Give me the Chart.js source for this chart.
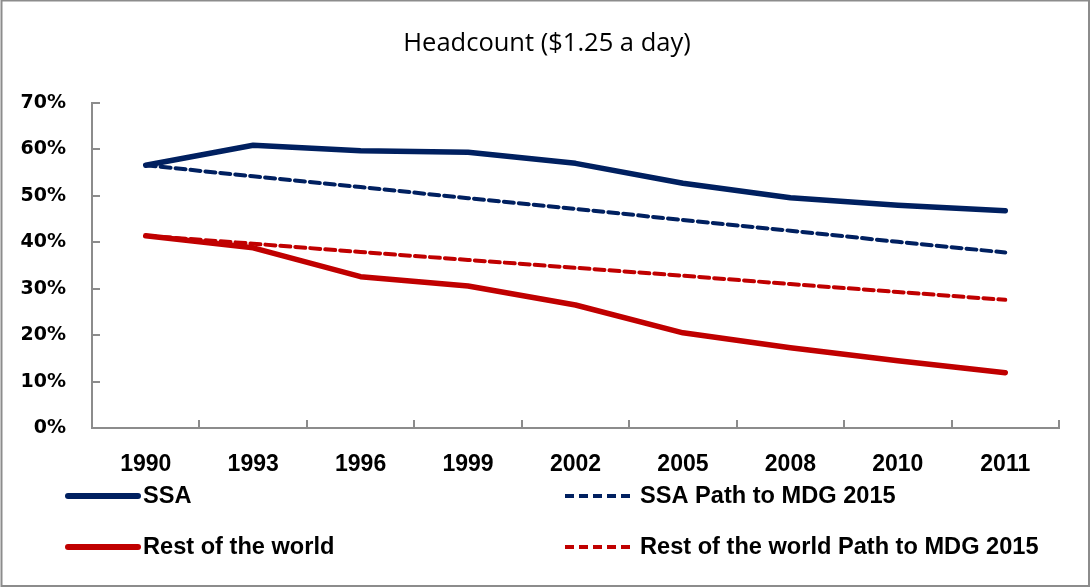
<!DOCTYPE html>
<html>
<head>
<meta charset="utf-8">
<style>
  html, body { margin: 0; padding: 0; background: #ffffff; }
  #wrap { position: relative; width: 1090px; height: 587px; }
</style>
<script src="https://cdn.jsdelivr.net/npm/chart.js@4.4.1/dist/chart.umd.min.js"></script>
</head>
<body>
<div id="wrap"><canvas id="chart" width="1090" height="587"></canvas></div>
<script>
// Poverty headcount ratio at $1.25 a day, in percent
const categories = ['1990', '1993', '1996', '1999', '2002', '2005', '2008', '2010', '2011'];
const ssa        = [56.6, 60.9, 59.7, 59.4, 57.0, 52.7, 49.6, 48.0, 46.8];
const ssaPath    = [56.6, 54.2, 51.9, 49.5, 47.2, 44.8, 42.5, 40.1, 37.8];
const rest       = [41.4, 38.8, 32.6, 30.6, 26.5, 20.5, 17.3, 14.5, 11.9];
const restPath   = [41.4, 39.7, 37.9, 36.2, 34.5, 32.8, 31.0, 29.3, 27.6];
const yTickValues = [0, 10, 20, 30, 40, 50, 60, 70];

const NAVY = '#002060';
const RED = '#C00000';
const AXIS = '#8c8c8c';

// White page with a thin grey frame
const frame = {
  id: 'frame',
  beforeDraw(chart) {
    const ctx = chart.ctx;
    ctx.save();
    ctx.fillStyle = '#ffffff';
    ctx.fillRect(0, 0, chart.width, chart.height);
    ctx.strokeStyle = AXIS;
    ctx.lineWidth = 2;
    ctx.strokeRect(1.5, 0.5, chart.width - 2.5, chart.height - 1.5);
    ctx.restore();
  }
};

// Tick marks pointing into the plot area
const inwardTicks = {
  id: 'inwardTicks',
  beforeDatasetsDraw(chart) {
    const { ctx, scales: { x, y }, chartArea: a } = chart;
    ctx.save();
    ctx.strokeStyle = AXIS;
    ctx.lineWidth = 2;
    ctx.beginPath();
    y.ticks.forEach(t => {
      const py = Math.round(y.getPixelForValue(t.value));
      ctx.moveTo(a.left, py);
      ctx.lineTo(a.left + 8, py);
    });
    for (let i = 0; i < x.ticks.length; i++) {
      const px = Math.round(x.getPixelForValue(i + 0.5));
      ctx.moveTo(px, a.bottom);
      ctx.lineTo(px, a.bottom - 8);
    }
    ctx.stroke();
    ctx.restore();
  }
};

// Two-column legend under the axis
const gridLegend = {
  id: 'gridLegend',
  afterDraw(chart) {
    const ctx = chart.ctx;
    const slots = [
      { ds: 0, x: 68, y: 496 },
      { ds: 1, x: 565, y: 496 },
      { ds: 2, x: 68, y: 547 },
      { ds: 3, x: 565, y: 547 }
    ];
    ctx.save();
    slots.forEach(s => {
      const d = chart.data.datasets[s.ds];
      ctx.strokeStyle = d.borderColor;
      ctx.lineWidth = d.borderDash ? 4 : 6;
      ctx.lineCap = d.borderDash ? 'butt' : 'round';
      ctx.setLineDash(d.borderDash ? [9, 5] : []);
      ctx.beginPath();
      ctx.moveTo(s.x, s.y);
      ctx.lineTo(s.x + 70, s.y);
      ctx.stroke();
      ctx.setLineDash([]);
      ctx.fillStyle = '#000000';
      ctx.font = 'bold 23.6px "Liberation Sans", Arial, sans-serif';
      ctx.textBaseline = 'middle';
      ctx.textAlign = 'left';
      ctx.fillText(d.label, s.x + 75, s.y);
    });
    ctx.restore();
  }
};

new Chart(document.getElementById('chart'), {
  type: 'line',
  data: {
    labels: categories,
    datasets: [
      { label: 'SSA', data: ssa, borderColor: NAVY, borderWidth: 5.5, order: 2 },
      { label: 'SSA Path to MDG 2015', data: ssaPath, borderColor: NAVY, borderWidth: 4, borderDash: [10, 5], order: 1 },
      { label: 'Rest of the world', data: rest, borderColor: RED, borderWidth: 5.5, order: 2 },
      { label: 'Rest of the world Path to MDG 2015', data: restPath, borderColor: RED, borderWidth: 4, borderDash: [10, 5], order: 1 }
    ]
  },
  options: {
    responsive: false,
    animation: false,
    devicePixelRatio: 1,
    layout: { padding: { left: 10, right: 6, top: 0, bottom: 109 } },
    elements: {
      point: { radius: 0, hoverRadius: 0 },
      line: { tension: 0, fill: false, borderCapStyle: 'round', borderJoinStyle: 'round' }
    },
    plugins: {
      legend: { display: false },
      tooltip: { enabled: false },
      title: {
        display: true,
        text: 'Headcount ($1.25 a day)',
        color: '#000000',
        font: { family: '"Open Sans", sans-serif', size: 25.5, weight: 'normal', lineHeight: 1.2 },
        padding: { top: 28, bottom: 44.4 }
      }
    },
    scales: {
      x: {
        type: 'category',
        offset: true,
        grid: { display: true, drawOnChartArea: false, drawTicks: false, offset: true },
        border: { display: true, color: AXIS, width: 2 },
        ticks: {
          color: '#000000',
          padding: 23,
          maxRotation: 0,
          autoSkip: false,
          font: { family: '"Liberation Sans", Arial, sans-serif', size: 23, weight: 'bold' }
        },
        afterFit(scale) { scale.height = 50; }
      },
      y: {
        min: 0,
        max: 70,
        afterBuildTicks(scale) { scale.ticks = yTickValues.map(v => ({ value: v })); },
        grid: { display: true, drawOnChartArea: false, drawTicks: false },
        border: { display: true, color: AXIS, width: 2 },
        ticks: {
          color: '#000000',
          padding: 26,
          callback: v => v + '%',
          font: { family: '"DejaVu Sans", sans-serif', size: 19, weight: 'bold' }
        },
        afterFit(scale) { scale.width = 82; }
      },
      // Empty right-hand margin so the plot ends short of the frame
      gutter: {
        type: 'linear',
        position: 'right',
        display: true,
        grid: { display: false, drawTicks: false },
        border: { display: false },
        ticks: { display: false },
        afterFit(scale) { scale.width = 25; }
      }
    }
  },
  plugins: [frame, inwardTicks, gridLegend]
});
</script>
</body>
</html>
